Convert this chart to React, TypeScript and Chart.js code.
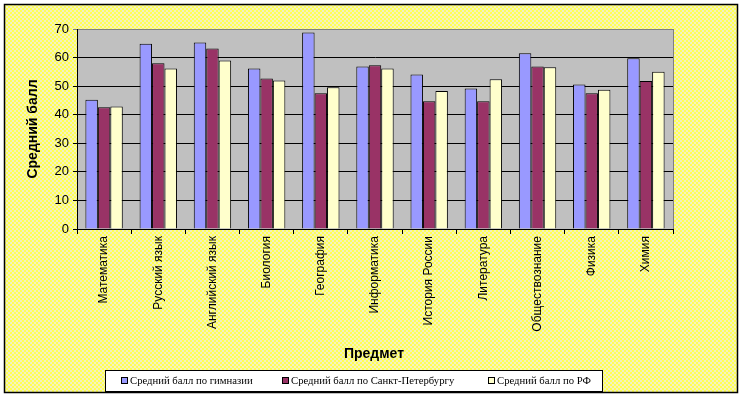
import React, { useEffect, useRef } from "react";
import { Chart, registerables } from "chart.js";

Chart.register(...registerables);

const categories = [
  "Математика",
  "Русский язык",
  "Английский язык",
  "Биология",
  "География",
  "Информатика",
  "История России",
  "Литература",
  "Обществознание",
  "Физика",
  "Химия",
];

const gymnasium = [45.2, 64.8, 65.3, 56.2, 68.8, 56.9, 54.1, 49.2, 61.5, 50.6, 59.8];
const spb = [42.6, 58.0, 63.2, 52.7, 47.5, 57.3, 44.7, 44.7, 56.9, 47.5, 51.8];
const rf = [42.9, 56.2, 59.0, 52.0, 49.6, 56.2, 48.3, 52.4, 56.6, 48.7, 55.0];

const seriesNames = [
  "Средний балл по гимназии",
  "Средний балл по Санкт-Петербургу",
  "Средний балл по РФ",
];
const seriesColors = ["#9999FF", "#993366", "#FFFFCC"];

const yTitle = "Средний балл";
const xTitle = "Предмет";

export default function App() {
  const ref = useRef<HTMLCanvasElement | null>(null);

  useEffect(() => {
    const canvas = ref.current!;
    const pc = document.createElement("canvas");
    pc.width = 4;
    pc.height = 4;
    const pctx = pc.getContext("2d")!;
    pctx.fillStyle = "#FFFF55";
    pctx.fillRect(0, 0, 4, 4);
    pctx.fillStyle = "#F4F2BE";
    pctx.fillRect(0, 0, 2, 2);
    pctx.fillRect(2, 2, 2, 2);

    const bgPlugin = {
      id: "bg",
      beforeDraw(chart: any) {
        const ctx = chart.ctx;
        const ca = chart.chartArea;
        ctx.save();
        ctx.fillStyle = "#FFFFFF";
        ctx.fillRect(0, 0, chart.width, chart.height);
        const pat = ctx.createPattern(pc, "repeat");
        ctx.fillStyle = pat;
        ctx.fillRect(4, 4, 734, 389);
        ctx.strokeStyle = "#000";
        ctx.lineWidth = 1.5;
        ctx.strokeRect(4.5, 4.5, 733, 388);
        ctx.fillStyle = "#C0C0C0";
        ctx.fillRect(ca.left, ca.top, ca.right - ca.left, ca.bottom - ca.top);
        ctx.restore();
      },
      afterDraw(chart: any) {
        const ctx = chart.ctx;
        const ca = chart.chartArea;
        ctx.save();
        ctx.strokeStyle = "#808080";
        ctx.lineWidth = 1;
        ctx.beginPath();
        ctx.moveTo(ca.right + 0.5, ca.top);
        ctx.lineTo(ca.right + 0.5, ca.bottom);
        ctx.stroke();
        ctx.fillStyle = "#000";
        ctx.font = "bold 14px 'Liberation Sans', Arial, sans-serif";
        ctx.textAlign = "center";
        ctx.textBaseline = "middle";
        ctx.save();
        ctx.translate(33, (ca.top + ca.bottom) / 2);
        ctx.rotate(-Math.PI / 2);
        ctx.fillText(yTitle, 0, 0);
        ctx.restore();
        ctx.fillText(xTitle, 374, 354);
        // legend
        ctx.fillStyle = "#FFFFFF";
        ctx.fillRect(105, 370, 497, 21);
        ctx.strokeStyle = "#000";
        ctx.lineWidth = 1;
        ctx.strokeRect(105.5, 370.5, 497, 21);
        ctx.font = "10.7px 'Liberation Serif', 'Times New Roman', serif";
        ctx.textAlign = "left";
        const xs = [121, 282, 488];
        chart.data.datasets.forEach((ds: any, i: number) => {
          const x = xs[i];
          ctx.fillStyle = ds.backgroundColor;
          ctx.fillRect(x + 0.5, 377.5, 6, 6);
          ctx.strokeStyle = "#000";
          ctx.strokeRect(x + 0.5, 377.5, 6, 6);
          ctx.fillStyle = "#000";
          ctx.fillText(ds.label, x + 9, 381);
        });
        ctx.restore();
      },
    };

    const chart = new Chart(canvas, {
      type: "bar",
      data: {
        labels: categories,
        datasets: [gymnasium, spb, rf].map((d, i) => ({
          label: seriesNames[i],
          data: d,
          backgroundColor: seriesColors[i],
          borderColor: "#000000",
          borderWidth: 1,
          categoryPercentage: 0.69,
          barPercentage: 1.0,
        })),
      },
      options: {
        responsive: false,
        animation: false,
        layout: { padding: { left: 0, top: 29, right: 70, bottom: 0 } },
        plugins: {
          legend: { display: false },
          title: { display: false },
          tooltip: { enabled: false },
        },
        scales: {
          x: {
            afterFit(scale: any) {
              scale.height = 169;
            },
            grid: {
              display: true,
              offset: true,
              drawOnChartArea: false,
              color: "#000",
              tickLength: 5,
            },
            border: { display: true, color: "#000", width: 1 },
            ticks: {
              minRotation: 90,
              maxRotation: 90,
              autoSkip: false,
              color: "#000",
              padding: 2,
              font: { family: "'Liberation Sans', Arial, sans-serif", size: 12 },
            },
          },
          y: {
            min: 0,
            max: 70,
            afterFit(scale: any) {
              scale.width = 77;
            },
            grid: {
              color: (c: any) => (c.tick && c.tick.value === 70 ? "#808080" : "#000"),
              tickLength: 4,
              drawTicks: true,
            },
            border: { display: true, color: "#000", width: 1 },
            ticks: {
              stepSize: 10,
              color: "#000",
              padding: 4,
              font: { family: "'Liberation Sans', Arial, sans-serif", size: 13 },
            },
          },
        },
      },
      plugins: [bgPlugin],
    });
    return () => chart.destroy();
  }, []);

  return (
    <div style={{ position: "fixed", left: 0, top: 0, width: 743, height: 398 }}>
      <canvas ref={ref} width={743} height={398} style={{ display: "block" }} />
    </div>
  );
}
